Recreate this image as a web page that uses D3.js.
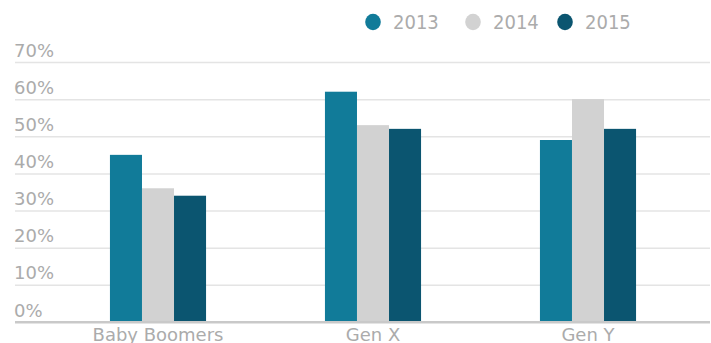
<!DOCTYPE html>
<html>
<head>
<meta charset="utf-8">
<script src="https://cdn.jsdelivr.net/npm/d3@7"></script>
<style>
  html, body { margin: 0; padding: 0; background: #fff; }
  svg { display: block; }
</style>
</head>
<body>
<svg id="chart" width="711" height="343"></svg>
<script>
const categories = ["Baby Boomers", "Gen X", "Gen Y"];
const years = ["2013", "2014", "2015"];
const values2013 = [45, 62, 49];
const values2014 = [36, 53, 60];
const values2015 = [34, 52, 52];
const yTicks = [0, 10, 20, 30, 40, 50, 60, 70];
const yTickLabels = ["0%", "10%", "20%", "30%", "40%", "50%", "60%", "70%"];
const colors = ["#117b99", "#d2d2d2", "#0b5570"];

const series = [values2013, values2014, values2015];

(function () {
const svg = d3.select("#chart");
const plotLeft = 15, plotRight = 710, plotBottom = 322, plotTop = 62;

const y = d3.scaleLinear().domain([0, 70]).range([plotBottom, plotTop]);
const x0 = d3.scaleBand().domain(categories).range([50.5, 695.5])
  .paddingInner(0.553).paddingOuter(0.2765);
const x1 = d3.scaleBand().domain(years).range([0, x0.bandwidth()]);
const color = d3.scaleOrdinal().domain(years).range(colors);

// Gridlines + tick labels via axis
const yAxis = d3.axisLeft(y)
  .tickValues(yTicks)
  .tickSize(plotRight - plotLeft)
  .tickFormat((d, i) => yTickLabels[i]);

const gAxis = svg.append("g")
  .attr("transform", `translate(${plotRight},0)`)
  .call(yAxis);
gAxis.select(".domain").remove();
gAxis.selectAll(".tick line")
  .attr("stroke", d => d === 0 ? "#c9c9c9" : "#e4e4e4")
  .attr("stroke-width", d => d === 0 ? 2 : 1.5);
gAxis.selectAll(".tick text")
  .attr("x", -(plotRight - plotLeft) - 1)
  .attr("y", 0)
  .attr("dy", "-6px")
  .attr("text-anchor", "start")
  .attr("fill", "#ababab")
  .style("font-family", "'DejaVu Sans', Verdana, sans-serif")
  .style("font-size", "18px");

// Bars
const groups = svg.append("g")
  .selectAll("g")
  .data(categories)
  .join("g")
  .attr("transform", d => `translate(${x0(d)},0)`);

groups.selectAll("rect")
  .data((d, i) => years.map((yr, j) => ({ year: yr, value: series[j][i] })))
  .join("rect")
  .attr("x", d => x1(d.year))
  .attr("width", x1.bandwidth())
  .attr("y", d => y(d.value))
  .attr("height", d => y(0) - y(d.value))
  .attr("fill", d => color(d.year));

// Baseline on top of bars
svg.append("line")
  .attr("x1", plotLeft).attr("x2", plotRight)
  .attr("y1", y(0)).attr("y2", y(0))
  .attr("stroke", "#c9c9c9").attr("stroke-width", 2);

// Category labels via bottom axis
const xAxis = d3.axisBottom(x0).tickSize(0);
const gx = svg.append("g")
  .attr("transform", `translate(0,${plotBottom})`)
  .call(xAxis);
gx.select(".domain").remove();
gx.selectAll(".tick text")
  .attr("y", 19)
  .attr("dy", 0)
  .attr("fill", "#ababab")
  .style("font-family", "'DejaVu Sans', Verdana, sans-serif")
  .style("font-size", "18px");

// Legend
const legendX = [373, 473, 565];
const legend = svg.append("g")
  .selectAll("g")
  .data(years)
  .join("g")
  .attr("transform", (d, i) => `translate(${legendX[i]},22)`);
legend.append("ellipse")
  .attr("rx", 7.8).attr("ry", 8.3)
  .attr("fill", d => color(d));
legend.append("text")
  .attr("x", 20)
  .attr("y", 7)
  .attr("fill", "#ababab")
  .style("font-family", "'DejaVu Sans Condensed', 'DejaVu Sans', sans-serif")
  .style("font-size", "20px")
  .text(d => d);
})();
</script>
</body>
</html>
